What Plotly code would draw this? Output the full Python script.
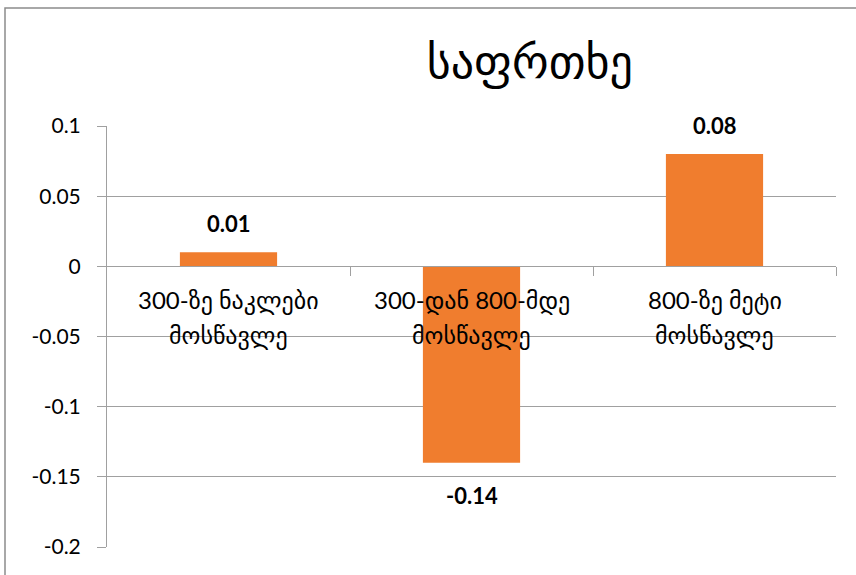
import plotly.graph_objects as go

title = "საფრთხე"
cat_line1 = ["300-ზე ნაკლები", "300-დან 800-მდე", "800-ზე მეტი"]
cat_line2 = ["მოსწავლე", "მოსწავლე", "მოსწავლე"]
values = [0.01, -0.14, 0.08]
value_labels = ["0.01", "-0.14", "0.08"]
y_ticks = [0.1, 0.05, 0, -0.05, -0.1, -0.15, -0.2]
y_tick_text = ["0.1", "0.05", "0", "-0.05", "-0.1", "-0.15", "-0.2"]

cats = list(range(len(values)))
FONT = "Lato, DejaVu Sans, sans-serif"

fig = go.Figure()
fig.add_trace(go.Bar(
    x=cats, y=values,
    marker=dict(color="#F07D2E", line=dict(width=0)),
    width=0.4,
    hoverinfo="skip",
))

ann = []
for i, (v, t) in enumerate(zip(values, value_labels)):
    ann.append(dict(x=i, y=v, xref="x", yref="y", text="<b>" + t + "</b>",
                    showarrow=False, font=dict(size=22, color="black", family=FONT),
                    yanchor="bottom" if v >= 0 else "top",
                    yshift=13 if v >= 0 else -17))
for i, (a, b) in enumerate(zip(cat_line1, cat_line2)):
    ann.append(dict(x=i, y=0, xref="x", yref="y", text=a, showarrow=False,
                    font=dict(size=24, color="black", family=FONT),
                    yanchor="middle", yshift=-34))
    ann.append(dict(x=i, y=0, xref="x", yref="y", text=b, showarrow=False,
                    font=dict(size=24, color="black", family=FONT),
                    yanchor="middle", yshift=-69))

fig.update_layout(
    width=856, height=575,
    margin=dict(l=107, r=20, t=126, b=28),
    paper_bgcolor="white", plot_bgcolor="white",
    showlegend=False,
    title=dict(text=title, x=0.58, xref="paper", xanchor="center",
               y=1 - 62 / 575, yanchor="middle",
               font=dict(size=46, color="black", family=FONT)),
    annotations=ann,
    xaxis=dict(
        type="linear", range=[-0.5, 2.5],
        anchor="free", position=2 / 3,
        showticklabels=False, showgrid=False, zeroline=False,
        showline=True, linecolor="#A0A0A0", linewidth=1,
        tickmode="array", tickvals=[0.5, 1.5, 2.5],
        ticks="outside", ticklen=9, tickcolor="#A0A0A0",
    ),
    yaxis=dict(
        range=[-0.2, 0.1],
        tickmode="array", tickvals=y_ticks, ticktext=y_tick_text,
        showgrid=True, gridcolor="#A0A0A0", gridwidth=1,
        zeroline=False,
        showline=True, linecolor="#A0A0A0", linewidth=1,
        ticks="outside", ticklen=9, tickcolor="#A0A0A0",
        ticklabelstandoff=12,
        tickfont=dict(size=21, color="black", family=FONT),
        automargin=False,
    ),
    shapes=[dict(type="rect", xref="paper", yref="paper",
                 x0=(5 - 107) / 729, x1=1.2, y0=-0.2,
                 y1=1 + (126 - 8) / 421,
                 line=dict(color="#8C8C8C", width=1.5), layer="below")],
)

fig.write_html("out.html", config={"displayModeBar": False},
               post_script="document.body.style.margin='0';document.body.style.padding='0';")
